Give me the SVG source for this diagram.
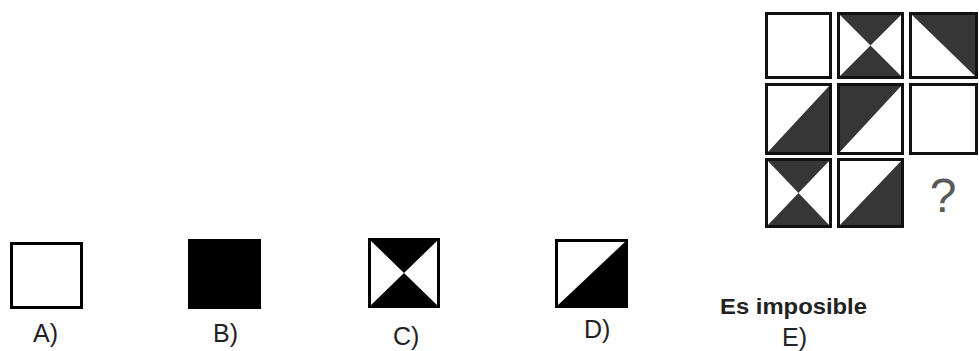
<svg xmlns="http://www.w3.org/2000/svg" width="979" height="351" viewBox="0 0 979 351">
<style>
.cell{fill:#fff;stroke:#111;stroke-width:3}
.dk{fill:#363636}
.blk{fill:#000}
.opt{fill:#fff;stroke:#000;stroke-width:3}
.lbl{font-family:"Liberation Sans",Arial,sans-serif;font-size:25px;fill:#222}
</style>
<rect width="979" height="351" fill="#fff"/>
<g id="grid">
  <g id="r1c1"><rect class="cell" x="766.5" y="13.5" width="64" height="64"/></g>
  <g id="r1c2"><rect x="838.5" y="13.5" width="64" height="64" fill="#fff"/>
    <polygon class="dk" points="838.5,13.5 902.5,13.5 870.5,45.5"/>
    <polygon class="dk" points="838.5,77.5 902.5,77.5 870.5,45.5"/>
    <rect class="cell" x="838.5" y="13.5" width="64" height="64" fill="none" style="fill:none"/></g>
  <g id="r1c3"><rect x="910.5" y="13.5" width="66" height="64" fill="#fff"/>
    <polygon class="dk" points="910.5,13.5 976.5,13.5 976.5,77.5"/>
    <rect class="cell" x="910.5" y="13.5" width="66" height="64" style="fill:none"/></g>
  <g id="r2c1"><rect x="766.5" y="84.5" width="64" height="69" fill="#fff"/>
    <polygon class="dk" points="766.5,153.5 830.5,84.5 830.5,153.5"/>
    <rect class="cell" x="766.5" y="84.5" width="64" height="69" style="fill:none"/></g>
  <g id="r2c2"><rect x="838.5" y="84.5" width="64" height="69" fill="#fff"/>
    <polygon class="dk" points="838.5,84.5 902.5,84.5 838.5,153.5"/>
    <rect class="cell" x="838.5" y="84.5" width="64" height="69" style="fill:none"/></g>
  <g id="r2c3"><rect class="cell" x="910.5" y="84.5" width="66" height="69"/></g>
  <g id="r3c1"><rect x="766.5" y="159.5" width="64" height="67" fill="#fff"/>
    <polygon class="dk" points="766.5,159.5 830.5,159.5 798.5,193"/>
    <polygon class="dk" points="766.5,226.5 830.5,226.5 798.5,193"/>
    <rect class="cell" x="766.5" y="159.5" width="64" height="67" style="fill:none"/></g>
  <g id="r3c2"><rect x="838.5" y="159.5" width="64" height="67" fill="#fff"/>
    <polygon class="dk" points="838.5,226.5 902.5,159.5 902.5,226.5"/>
    <rect class="cell" x="838.5" y="159.5" width="64" height="67" style="fill:none"/></g>
  <g id="r3c3"><text x="943" y="212" text-anchor="middle" style="font-family:'Liberation Sans',Arial,sans-serif;font-size:48px;fill:#5a5a5a">?</text></g>
</g>
<g id="optA"><rect class="opt" x="11.5" y="243.5" width="70" height="64"/>
  <text class="lbl" x="33" y="342">A)</text></g>
<g id="optB"><rect class="blk" x="188" y="239" width="73" height="70"/>
  <text class="lbl" x="213" y="342">B)</text></g>
<g id="optC"><rect x="369.5" y="239.5" width="69" height="67" fill="#fff"/>
  <polygon class="blk" points="369.5,239.5 438.5,239.5 404,273"/>
  <polygon class="blk" points="369.5,306.5 438.5,306.5 404,273"/>
  <rect class="opt" x="369.5" y="239.5" width="69" height="67" style="fill:none"/>
  <text class="lbl" x="393" y="345">C)</text></g>
<g id="optD"><rect x="556.5" y="240.5" width="70" height="66" fill="#fff"/>
  <polygon class="blk" points="556.5,306.5 626.5,240.5 626.5,306.5"/>
  <rect class="opt" x="556.5" y="240.5" width="70" height="66" style="fill:none"/>
  <text class="lbl" x="584" y="338">D)</text></g>
<g id="optE">
  <text x="720" y="314" textLength="147" lengthAdjust="spacingAndGlyphs" style="font-family:'Liberation Sans',Arial,sans-serif;font-size:22px;font-weight:bold;fill:#222">Es imposible</text>
  <text class="lbl" x="782" y="346">E)</text></g>
<g id="connectors"/>
</svg>
